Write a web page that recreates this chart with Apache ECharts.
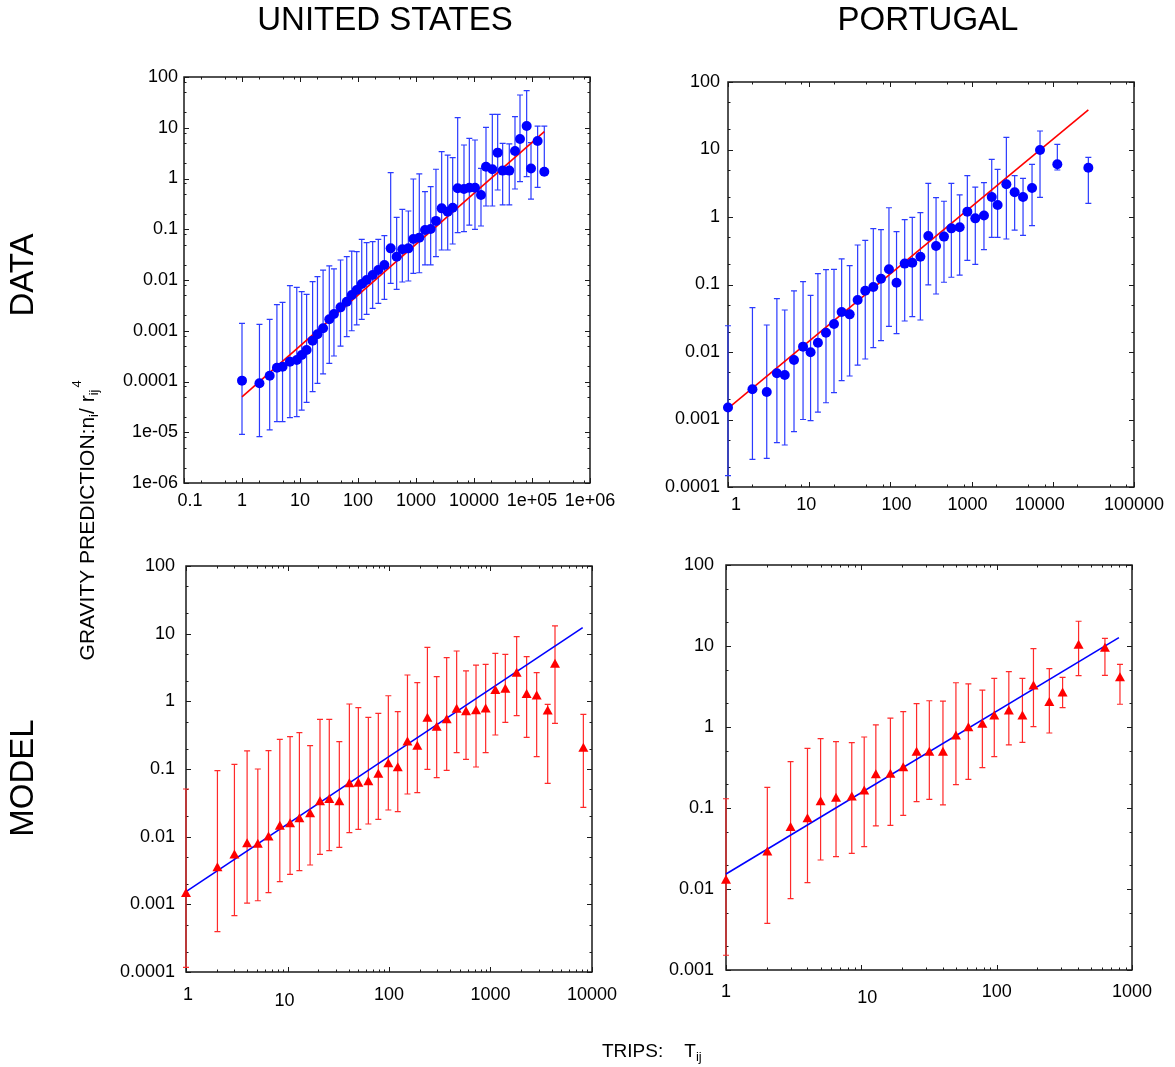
<!DOCTYPE html>
<html><head><meta charset="utf-8">
<script src="https://cdn.jsdelivr.net/npm/echarts@6.0.0/dist/echarts.min.js"></script>
<style>html,body{margin:0;padding:0;background:#fff}#chart{width:1175px;height:1067px}</style>
</head><body><div id="chart"></div>
<script>
// ---------------- DATA ----------------
// United States, data (blue circles)
const usDataX  = [1,2,3,4,5,6.7,8.8,10.7,13,16.5,20,25,32,38.5,50,64,78,95,116,141,179,224,285,366,464,581,738,900,1140,1430,1790,2210,2770,3520,4290,5230,6720,8310,10400,13200,16100,20700,25600,31200,40600,50900,62100,80900,96100,125000,163000];
const usDataY  = [1.04e-4,9.2e-5,1.30e-4,1.87e-4,1.96e-4,2.46e-4,2.65e-4,3.33e-4,4.18e-4,6.38e-4,8.5e-4,1.12e-3,1.68e-3,2.14e-3,2.89e-3,3.74e-3,5.06e-3,6.35e-3,8.34e-3,0.0100,0.01256,0.0157,0.0198,0.042,0.0288,0.0402,0.042,0.0643,0.0683,0.0966,0.101,0.146,0.258,0.222,0.266,0.64,0.621,0.659,0.659,0.473,1.71,1.52,3.23,1.43,1.43,3.48,6.0,10.8,1.58,5.48,1.36];
const usDataLo = [9.1e-6,8.2e-6,1.11e-5,1.62e-5,1.62e-5,1.94e-5,2.03e-5,2.74e-5,3.89e-5,6.3e-5,9.2e-5,1.41e-4,2.28e-4,3.18e-4,5.0e-4,7.64e-4,1.0e-3,1.30e-3,1.68e-3,2.1e-3,2.77e-3,3.47e-3,4.16e-3,8.6e-3,6.55e-3,9.14e-3,9.55e-3,0.0135,0.0139,0.0198,0.0198,0.0288,0.039,0.039,0.0512,0.0857,0.0895,0.121,0.0995,0.116,0.287,0.287,0.593,0.301,0.301,0.621,0.867,1.09,0.394,0.67,1.2];
const usDataHi = [1.40e-3,1.34e-3,1.68e-3,3.27e-3,3.63e-3,7.73e-3,7.16e-3,5.89e-3,5.22e-3,9.27e-3,0.01164,0.0157,0.0189,0.0165,0.0248,0.0288,0.0372,0.0361,0.0633,0.0544,0.0569,0.0633,0.0748,1.30,0.172,0.247,0.229,0.977,1.23,0.55,0.69,1.52,3.38,2.9,2.58,15.8,4.57,6.18,5.74,1.58,10.2,18.4,18.4,4.93,4.79,16.5,44.2,53.8,5.08,10.8,10.8];
const usDataFit = [[1, 5.0e-5], [163000, 8.4]];

// Portugal, data (blue circles)
const ptDataX  = [1,2,3,4,5,6.5,8.4,10.4,12.8,16.1,20.2,25.1,31.5,39.5,49,61.6,76.6,96,119,150,186,234,293,365,457,563,713,886,1110,1420,1770,2090,2680,3390,4300,5550,6960,11370,27400];
const ptDataY  = [1.51e-3,2.8e-3,2.55e-3,4.83e-3,4.56e-3,7.6e-3,0.012,9.9e-3,0.0137,0.0193,0.026,0.0392,0.0361,0.0589,0.081,0.0918,0.122,0.168,0.106,0.204,0.21,0.258,0.523,0.372,0.512,0.679,0.703,1.2,0.955,1.05,1.98,1.51,3.05,2.32,1.98,2.69,9.84,6.03,5.38];
const ptDataLo = [1.47e-4,2.57e-4,2.66e-4,4.54e-4,4.19e-4,6.6e-4,1.0e-3,9.6e-4,1.29e-3,1.77e-3,2.5e-3,3.76e-3,4.41e-3,6.4e-3,7.87e-3,0.0116,0.0147,0.024,0.0187,0.0288,0.0334,0.0298,0.0984,0.0723,0.108,0.128,0.138,0.228,0.199,0.328,0.5,0.5,0.472,0.641,0.535,0.744,1.95,4.97,1.59];
const ptDataHi = [0.0245,0.0454,0.0251,0.0617,0.0419,0.0802,0.110,0.0692,0.145,0.166,0.168,0.239,0.19,0.385,0.451,0.671,0.649,1.37,0.607,0.912,0.989,1.16,3.15,1.93,1.71,3.15,2.12,4.09,2.78,3.23,7.15,5.08,15.1,4.09,3.74,6.03,18.8,11.9,7.66];
const ptDataFit = [[1, 1.46e-3], [27400, 38.5]];

// United States, model (red triangles)
const usModelX  = [1,2.04,3,4,5.1,6.5,8.4,10.6,13.1,16.7,20.9,25.8,32.4,40.7,49.9,62.6,78.5,98.5,122,152,190,239,295,370,464,574,720,896,1116,1400,1810,2270,2850,3660,4320,8220];
const usModelY  = [1.49e-3,3.6e-3,5.55e-3,8.15e-3,7.96e-3,0.0102,0.0147,0.0161,0.0191,0.0226,0.034,0.0365,0.034,0.0628,0.0636,0.0673,0.0863,0.124,0.108,0.259,0.224,0.58,0.427,0.555,0.789,0.728,0.753,0.796,1.5,1.56,2.69,1.31,1.24,0.745,3.65,0.209];
const usModelLo = [1.17e-4,3.94e-4,6.8e-4,1.04e-3,1.13e-3,1.49e-3,2.16e-3,2.77e-3,3.15e-3,3.81e-3,5.48e-3,6.21e-3,6.95e-3,0.0115,0.0128,0.0154,0.018,0.0248,0.0234,0.0427,0.0447,0.0989,0.0745,0.0955,0.174,0.139,0.107,0.174,0.318,0.49,0.614,0.294,0.152,0.0614,0.473,0.0271];
const usModelHi = [0.0506,0.0944,0.117,0.185,0.1,0.187,0.274,0.301,0.344,0.221,0.542,0.542,0.254,0.914,0.806,0.58,0.665,1.21,0.703,2.45,1.89,6.28,2.32,4.42,5.54,2.81,3.44,3.52,5.12,4.95,9.03,4.57,2.65,0.9,13.0,0.643];
const usModelFit = [[1, 1.54e-3], [8100, 12.3]];

// Portugal, model (red triangles)
const ptModelX  = [1,2.02,3,4,5,6.5,8.5,10.5,12.8,16.4,20.4,25.6,31.8,40.1,50,61.8,78.4,96,123,155,187,245,307,403,631,815];
const ptModelY  = [0.0132,0.0294,0.0589,0.076,0.123,0.136,0.141,0.167,0.265,0.268,0.324,0.501,0.501,0.501,0.796,1.01,1.11,1.41,1.62,1.41,3.3,2.06,2.7,10.5,9.64,4.18];
const ptModelLo = [1.52e-3,3.77e-3,7.6e-3,0.012,0.0228,0.0251,0.0275,0.0333,0.06,0.0611,0.081,0.12,0.128,0.109,0.194,0.226,0.315,0.431,0.6,0.647,1.01,0.843,1.73,4.31,4.35,1.91];
const ptModelHi = [0.130,0.18,0.373,0.546,0.718,0.659,0.641,0.753,1.06,1.29,1.55,1.94,2.11,2.09,3.52,3.4,2.86,3.99,4.82,3.99,9.27,5.25,4.1,20.2,12.4,5.94];
const ptModelFit = [[1, 0.0153], [800, 12.7]];

// Tick labels (one per decade, from axis min upward)
const usDataXTicks  = ['0.1','1','10','100','1000','10000','1e+05','1e+06'];
const usDataYTicks  = ['1e-06','1e-05','0.0001','0.001','0.01','0.1','1','10','100'];
const ptDataXTicks  = ['1','10','100','1000','10000','100000'];
const ptDataYTicks  = ['0.0001','0.001','0.01','0.1','1','10','100'];
const usModelXTicks = ['1','10','100','1000','10000'];
const usModelYTicks = ['0.0001','0.001','0.01','0.1','1','10','100'];
const ptModelXTicks = ['1','10','100','1000'];
const ptModelYTicks = ['0.001','0.01','0.1','1','10','100'];

// Titles
const colTitles = ['UNITED STATES', 'PORTUGAL'];
const rowTitles = ['DATA', 'MODEL'];

// ---------------- STYLE / LAYOUT ----------------
const FONT = "'Liberation Sans', Arial, Helvetica, sans-serif";
const LABEL_SIZE = 18;
const BLUE = '#0000ff', RED = '#ff0000', FRAME = '#1a1a1a';

const panels = [
  { grid:{left:184, top:77,  width:406, height:406}, xr:[0.1,1e6], yr:[1e-6,100],
    xT:usDataXTicks, yT:usDataYTicks, xMinor:[2,5,8], yMinor:[2,5,8],
    X:usDataX, Y:usDataY, LO:usDataLo, HI:usDataHi, FIT:usDataFit,
    mark:BLUE, bar:'#2b3bff', line:RED, symbol:'circle', size:10,
    xMargin:9, yMargin:6, xShift:{'0.1':[6,0]} },
  { grid:{left:728, top:82,  width:406, height:405}, xr:[1,1e5], yr:[1e-4,100],
    xT:ptDataXTicks, yT:ptDataYTicks, xMinor:[2,5,8], yMinor:[2,5],
    X:ptDataX, Y:ptDataY, LO:ptDataLo, HI:ptDataHi, FIT:ptDataFit,
    mark:BLUE, bar:'#2b3bff', line:RED, symbol:'circle', size:10,
    xMargin:9, yMargin:8, xShift:{'1':[8,0],'10':[-3,0],'100':[6,0],'1000':[-4,0],'10000':[-13,0]} },
  { grid:{left:186, top:566, width:406, height:406}, xr:[1,1e4], yr:[1e-4,100],
    xT:usModelXTicks, yT:usModelYTicks, xMinor:[2,3,4,5,6,7,8,9], yMinor:[2,5],
    X:usModelX, Y:usModelY, LO:usModelLo, HI:usModelHi, FIT:usModelFit,
    mark:RED, bar:'#ff2a2a', line:BLUE, symbol:'triangle', size:[10,9],
    xMargin:14, yMargin:11, xShift:{'1':[2,0],'10':[-3,6]} },
  { grid:{left:726, top:565, width:406, height:405}, xr:[1,1000], yr:[1e-3,100],
    xT:ptModelXTicks, yT:ptModelYTicks, xMinor:[2,3,4,5,6,7,8,9], yMinor:[2,5],
    X:ptModelX, Y:ptModelY, LO:ptModelLo, HI:ptModelHi, FIT:ptModelFit,
    mark:RED, bar:'#ff2a2a', line:BLUE, symbol:'triangle', size:[10,9],
    xMargin:13, yMargin:12, xShift:{'10':[6,6]} }
];

const lg = v => Math.round(Math.log10(v));

function labelSpec(ticks, minVal, shifts, margin) {
  const minExp = lg(minVal);
  const rich = {};
  ticks.forEach((t, i) => {
    const sh = shifts && shifts[t];
    if (sh) {
      const dx = sh[0], dy = sh[1];
      rich['k' + i] = {
        fontSize: LABEL_SIZE, fontFamily: FONT, color: '#000',
        padding: [Math.max(dy, 0), dx < 0 ? -2 * dx : 0, 0, dx > 0 ? 2 * dx : 0]
      };
    }
  });
  return {
    show: true, margin: margin, fontSize: LABEL_SIZE, fontFamily: FONT, color: '#000',
    showMinLabel: true, showMaxLabel: true, hideOverlap: false,
    rich: rich,
    formatter: function (v) {
      const i = lg(v) - minExp;
      const t = ticks[i];
      if (t === undefined) return '';
      return rich['k' + i] ? '{k' + i + '|' + t + '}' : t;
    }
  };
}

function tickData(p) {
  const out = [];
  const xe0 = lg(p.xr[0]), xe1 = lg(p.xr[1]);
  const ye0 = lg(p.yr[0]), ye1 = lg(p.yr[1]);
  for (let e = xe0; e <= xe1; e++) {
    const d = Math.pow(10, e);
    out.push([d, 0, 5, p.yr[0]]);
    if (e < xe1) p.xMinor.forEach(m => out.push([m * d, 0, 2.5, p.yr[0]]));
  }
  for (let e = ye0; e <= ye1; e++) {
    const d = Math.pow(10, e);
    out.push([p.xr[0], 1, 5, d]);
    if (e < ye1) p.yMinor.forEach(m => out.push([p.xr[0], 1, 2.5, m * d]));
  }
  return out;
}

const grids = [], xAxes = [], yAxes = [], series = [];

panels.forEach((p, gi) => {
  grids.push(Object.assign({ show: true, borderColor: FRAME, borderWidth: 1.5, backgroundColor: '#fff', containLabel: false }, p.grid));
  xAxes.push({
    type: 'log', logBase: 10, gridIndex: gi, min: p.xr[0], max: p.xr[1], interval: 1,
    axisLine: { show: false }, axisTick: { show: false }, splitLine: { show: false }, minorTick: { show: false },
    axisLabel: labelSpec(p.xT, p.xr[0], p.xShift, p.xMargin)
  });
  yAxes.push({
    type: 'log', logBase: 10, gridIndex: gi, min: p.yr[0], max: p.yr[1], interval: 1,
    axisLine: { show: false }, axisTick: { show: false }, splitLine: { show: false }, minorTick: { show: false },
    axisLabel: labelSpec(p.yT, p.yr[0], null, p.yMargin)
  });

  // ticks on all four sides, inward
  series.push({
    type: 'custom', xAxisIndex: gi, yAxisIndex: gi, silent: true, z: 5,
    dimensions: ['a', 'kind', 'len', 'b'], encode: { x: 0, y: 3 },
    data: tickData(p),
    renderItem: function (params, api) {
      const cs = params.coordSys;
      const kind = api.value(1), len = api.value(2);
      if (kind === 0) {
        const px = Math.round(api.coord([api.value(0), api.value(3)])[0]) + 0.5;
        return { type: 'group', children: [
          { type: 'line', shape: { x1: px, y1: cs.y + cs.height, x2: px, y2: cs.y + cs.height - len }, style: { stroke: FRAME, lineWidth: 1, fill: null } },
          { type: 'line', shape: { x1: px, y1: cs.y, x2: px, y2: cs.y + len }, style: { stroke: FRAME, lineWidth: 1, fill: null } }
        ]};
      } else {
        const py = Math.round(api.coord([api.value(0), api.value(3)])[1]) + 0.5;
        return { type: 'group', children: [
          { type: 'line', shape: { x1: cs.x, y1: py, x2: cs.x + len, y2: py }, style: { stroke: FRAME, lineWidth: 1, fill: null } },
          { type: 'line', shape: { x1: cs.x + cs.width, y1: py, x2: cs.x + cs.width - len, y2: py }, style: { stroke: FRAME, lineWidth: 1, fill: null } }
        ]};
      }
    }
  });

  // error bars
  const barColor = p.bar;
  series.push({
    type: 'custom', xAxisIndex: gi, yAxisIndex: gi, silent: true, z: 6,
    dimensions: ['x', 'lo', 'hi'], encode: { x: 0, y: [1, 2] },
    itemStyle: { color: barColor },
    data: p.X.map((x, i) => [x, p.LO[i], p.HI[i]]),
    renderItem: function (params, api) {
      const x = api.value(0);
      const a = api.coord([x, api.value(2)]);
      const b = api.coord([x, api.value(1)]);
      const cx = a[0];
      const ya = a[1], yb = b[1];
      return {
        type: 'polyline',
        shape: { points: [[cx - 3, ya], [cx + 3, ya], [cx, ya], [cx, yb], [cx - 3, yb], [cx + 3, yb]] },
        style: { stroke: barColor, lineWidth: 1.2, fill: null }
      };
    }
  });

  // fit line
  series.push({
    type: 'line', xAxisIndex: gi, yAxisIndex: gi, silent: true, z: 7,
    data: p.FIT, showSymbol: false, symbol: 'none',
    lineStyle: { color: p.line, width: 1.6 }, clip: false, animation: false
  });

  // markers
  series.push({
    type: 'scatter', xAxisIndex: gi, yAxisIndex: gi, silent: true, z: 8, clip: false,
    symbol: p.symbol, symbolSize: p.size,
    itemStyle: { color: p.mark, opacity: 1 },
    data: p.X.map((x, i) => [x, p.Y[i]])
  });
});

const TS = (txt, size) => ({ text: txt, fontSize: size, fontFamily: FONT, fill: '#000', align: 'center', verticalAlign: 'middle', textAlign: 'center', textVerticalAlign: 'middle' });

const graphics = [
  { type: 'text', x: 385, y: 21, style: TS(colTitles[0], 33) },
  { type: 'text', x: 928, y: 21, style: TS(colTitles[1], 33) },
  { type: 'text', x: 24, y: 275, rotation: Math.PI / 2, style: TS(rowTitles[0], 33) },
  { type: 'text', x: 24, y: 778, rotation: Math.PI / 2, style: TS(rowTitles[1], 33) },
  { type: 'text', x: 88, y: 525, rotation: Math.PI / 2, style: {
      text: '{a|GRAVITY PREDICTION:n}{s|i}{a|/ r}{s|ij}',
      align: 'center', verticalAlign: 'middle', textAlign: 'center', textVerticalAlign: 'middle',
      rich: {
        a: { fontSize: 21, fontFamily: FONT, fill: '#000', color: '#000', lineHeight: 26, verticalAlign: 'middle' },
        s: { fontSize: 13, fontFamily: FONT, fill: '#000', color: '#000', lineHeight: 26, verticalAlign: 'bottom', padding: [8, 0, 0, 0] }
      } } },
  { type: 'text', x: 77, y: 384, rotation: Math.PI / 2, style: TS('4', 13) },
  { type: 'text', x: 602, y: 1052, style: {
      text: '{a|TRIPS:    T}{s|ij}', align: 'left', verticalAlign: 'middle', textAlign: 'left', textVerticalAlign: 'middle',
      rich: {
        a: { fontSize: 19, fontFamily: FONT, fill: '#000', color: '#000', lineHeight: 24, verticalAlign: 'middle' },
        s: { fontSize: 13, fontFamily: FONT, fill: '#000', color: '#000', lineHeight: 24, verticalAlign: 'bottom', padding: [9, 0, 0, 0] }
      } } }
];

const chart = echarts.init(document.getElementById('chart'), null, { renderer: 'canvas' });
chart.setOption({
  animation: false,
  backgroundColor: '#fff',
  grid: grids, xAxis: xAxes, yAxis: yAxes, series: series,
  graphic: graphics
});
</script>
</body></html>
